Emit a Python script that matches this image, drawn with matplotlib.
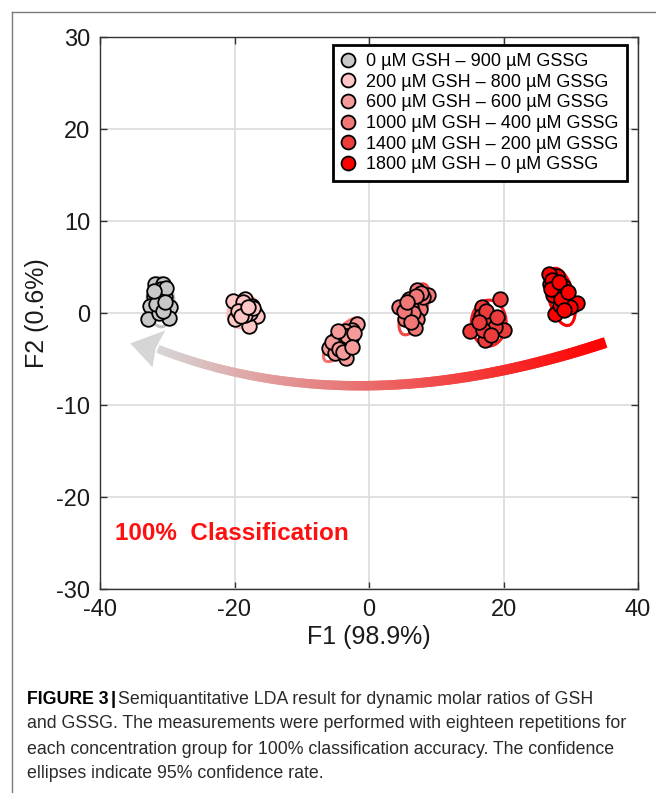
import numpy as np
import matplotlib
matplotlib.use("Agg")
import matplotlib.pyplot as plt
from matplotlib import font_manager
from matplotlib.patches import Ellipse, Polygon
from matplotlib.collections import LineCollection
from matplotlib.lines import Line2D

plt.rcParams['font.family'] = ['Liberation Sans', 'DejaVu Sans']
plt.rcParams['axes.unicode_minus'] = False

# ------------------------------------------------------------
# Data
# ------------------------------------------------------------
labels = ["0 µM GSH – 900 µM GSSG", "200 µM GSH – 800 µM GSSG",
          "600 µM GSH – 600 µM GSSG", "1000 µM GSH – 400 µM GSSG",
          "1400 µM GSH – 200 µM GSSG", "1800 µM GSH – 0 µM GSSG"]
face_colors = ["#c8c8c8", "#ffc6c6", "#f69a9a", "#f27878", "#ec3c3c", "#ff0000"]
ring_colors = ["#c4c4c4", "#ffbcbc", "#f57070", "#f04848", "#f02020", "#ff0000"]

f1_g1 = [-31.8, -30.6, -32.0, -30.8, -30.3, -31.4, -29.6, -32.6, -31.1,
         -32.8, -29.8, -31.3, -31.0, -30.2, -31.6, -30.7, -31.9, -30.4]
f2_g1 = [3.2, 3.1, 1.8, 2.2, 1.7, 1.3, 0.6, 0.8, 0.9,
         -0.7, -0.5, 0.0, 2.6, 2.7, 1.0, 0.2, 2.4, 1.2]
f1_g2 = [-19.7, -18.4, -17.4, -18.9, -17.0, -19.9, -18.2, -16.7, -17.9,
         -19.2, -20.2, -17.7, -18.8, -19.5, -18.5, -17.3, -19.0, -18.0]
f2_g2 = [1.1, 1.5, 0.8, 0.4, 0.0, -0.7, -0.5, -0.3, -1.4,
         0.9, 1.3, 0.0, 1.2, 0.2, -0.2, 0.5, -0.3, 0.7]
f1_g3 = [-1.8, -2.5, -3.6, -4.9, -6.0, -3.0, -4.2, -5.0, -3.4,
         -2.7, -4.0, -3.2, -5.5, -4.5, -2.2, -3.8, -2.6, -4.6]
f2_g3 = [-1.2, -1.8, -2.0, -2.8, -3.8, -3.4, -3.3, -4.4, -4.9,
         -2.7, -2.4, -2.5, -3.2, -3.9, -2.2, -4.2, -3.7, -2.0]
f1_g4 = [7.1, 8.8, 5.8, 4.4, 7.3, 7.6, 5.4, 7.1, 6.8,
         6.3, 8.1, 6.0, 6.6, 5.2, 7.8, 6.2, 7.0, 5.6]
f2_g4 = [2.5, 2.0, 0.9, 0.6, 1.1, 0.4, -0.7, -0.7, -1.6,
         0.6, 1.7, 1.5, 0.0, 0.2, 2.2, -1.0, 1.8, 1.2]
f1_g5 = [19.5, 16.8, 17.5, 18.5, 17.0, 15.0, 20.0, 17.7, 17.2,
         18.2, 16.6, 17.9, 18.8, 16.9, 18.1, 17.4, 19.0, 16.3]
f2_g5 = [1.5, 0.6, -0.3, -0.9, -1.1, -2.0, -1.8, -2.0, -2.9,
         -1.4, -0.3, -0.5, -1.5, -1.8, -2.4, 0.2, -0.4, -1.0]
f1_g6 = [27.9, 26.9, 28.9, 27.4, 29.4, 30.4, 30.9, 27.7, 28.4,
         26.7, 28.1, 29.9, 27.2, 28.6, 27.0, 29.0, 28.3, 29.6]
f2_g6 = [4.0, 3.1, 2.9, 2.0, 1.7, 0.9, 1.1, -0.1, 0.9,
         4.2, 2.4, 0.6, 3.6, 1.5, 2.6, 0.3, 3.4, 2.3]

# 95% confidence ellipses: centre, axis lengths, angle (data units)
ell_cx = [-31.0, -18.6, -3.9, 6.7, 17.8, 28.6]
ell_cy = [1.2, 0.1, -2.9, 0.4, -1.1, 1.75]
ell_w = [4.0, 4.8, 7.0, 6.4, 5.2, 6.6]
ell_h = [5.4, 3.4, 2.6, 3.2, 5.0, 3.6]
ell_ang = [5, 10, 38, 55, 10, -67]

groups = [(f1_g1, f2_g1), (f1_g2, f2_g2), (f1_g3, f2_g3),
          (f1_g4, f2_g4), (f1_g5, f2_g5), (f1_g6, f2_g6)]

# trend arrow (quadratic bezier) and head
arrow_tail = (35.2, -3.2)
arrow_ctrl = (-2.0, -12.25)
arrow_neck = (-31.4, -3.9)
arrow_head = [(-35.5, -3.3), (-30.3, -1.9), (-31.7, -3.8), (-32.2, -5.9)]

W, H = 656, 793
fig = plt.figure(figsize=(W / 100, H / 100), dpi=100)
ax = fig.add_axes([100 / W, 1 - 589 / H, 538 / W, 552 / H])

ax.set_xlim(-40, 40)
ax.set_ylim(-30, 30)
ax.set_xticks([-40, -20, 0, 20, 40])
ax.set_yticks([-30, -20, -10, 0, 10, 20, 30])
ax.grid(True, color="#dedede", linewidth=1.3)
ax.set_axisbelow(True)
ax.tick_params(direction="in", top=True, right=True, length=5, width=1,
               labelsize=17, pad=7, color="#333333", labelcolor="#1a1a1a")
for sp in ax.spines.values():
    sp.set_color("#333333")
    sp.set_linewidth(1.0)

# gradient arrow
t = np.linspace(0, 1, 300)[:, None]
P0, P1, P2 = np.array(arrow_tail), np.array(arrow_ctrl), np.array(arrow_neck)
curve = (1 - t) ** 2 * P0 + 2 * (1 - t) * t * P1 + t ** 2 * P2
segs = [curve[i:i + 3] for i in range(len(curve) - 2)]
c_red = np.array([1.0, 0.0, 0.0])
c_grey = np.array([0.84, 0.84, 0.84])
tt = np.linspace(0, 1, len(segs))[:, None]
seg_cols = (1 - tt) * c_red + tt * c_grey
seg_lw = 7.8 - 2.0 * tt[:, 0]
lc = LineCollection(segs, colors=seg_cols, linewidths=seg_lw, capstyle="butt", zorder=2)
ax.add_collection(lc)
ax.add_patch(Polygon(arrow_head, closed=True, facecolor="#d6d6d6", edgecolor="none", zorder=2))

# ellipses and points
for i, (xs, ys) in enumerate(groups):
    ax.add_patch(Ellipse((ell_cx[i], ell_cy[i]), ell_w[i], ell_h[i], angle=ell_ang[i],
                         fill=False, edgecolor=ring_colors[i], linewidth=2.2, zorder=3))
    ax.scatter(xs, ys, s=110, c=face_colors[i], edgecolors="black", linewidths=1.3, zorder=4)

handles = [Line2D([], [], linestyle="none", marker="o", markersize=10,
                  markerfacecolor=face_colors[i], markeredgecolor="black",
                  markeredgewidth=1.3) for i in range(6)]
leg = ax.legend(handles, labels, loc="upper right",
                bbox_to_anchor=((627 - 100) / 538, (589 - 45) / 552),
                borderaxespad=0, fontsize=13, frameon=True, fancybox=False,
                handlelength=0.8, handletextpad=0.6, labelspacing=0.2,
                borderpad=0.45, framealpha=1)
leg.get_frame().set_edgecolor("black")
leg.get_frame().set_linewidth(2.0)
leg.set_zorder(6)

ax.text(-37.8, -24.0, "100%  Classification", color="#ff1010", fontsize=17.5,
        fontweight="bold", ha="left", va="center", zorder=5)

ax.set_xlabel("F1 (98.9%)", fontsize=18, color="#1a1a1a", va="center")
ax.xaxis.set_label_coords(0.5, (589 - 637) / 552)
ax.set_ylabel("F2 (0.6%)", fontsize=18, color="#1a1a1a", va="center")
ax.yaxis.set_label_coords((37 - 100) / 538, 0.5)

# outer frame lines
fig.add_artist(Line2D([12 / W, 12 / W], [0, 1 - 12 / H], color="#7a7a7a", lw=1.0))
fig.add_artist(Line2D([12 / W, 1], [1 - 12 / H, 1 - 12 / H], color="#7a7a7a", lw=1.0))

# caption
cap_family = ["Liberation Sans"]
try:
    font_manager.findfont("Liberation Sans Narrow", fallback_to_default=False)
    cap_family = ["Liberation Sans Narrow", "Liberation Sans"]
except Exception:
    pass

renderer = fig.canvas.get_renderer()
cap_lines = ["Semiquantitative LDA result for dynamic molar ratios of GSH",
             "and GSSG. The measurements were performed with eighteen repetitions for",
             "each concentration group for 100% classification accuracy. The confidence",
             "ellipses indicate 95% confidence rate."]
cap_y = [700, 724, 749, 773]
x0 = 27
probe = fig.text(0, 0, cap_lines[1], fontsize=14, family=cap_family)
pw = probe.get_window_extent(renderer).width
probe.remove()
cap_fs = 14 * 602 / pw

t1 = fig.text(x0 / W, 1 - cap_y[0] / H, "FIGURE 3", fontsize=cap_fs, family=cap_family,
              fontweight="bold", color="black", va="center", ha="left")
e1 = t1.get_window_extent(renderer)
t2 = fig.text((e1.x1 + 2) / W, 1 - cap_y[0] / H, "|", fontsize=cap_fs * 1.05,
              family=cap_family, fontweight="bold", color="black", va="center", ha="left")
e2 = t2.get_window_extent(renderer)
fig.text((e2.x1 + 2) / W, 1 - cap_y[0] / H, cap_lines[0], fontsize=cap_fs,
         family=cap_family, color="#2a2a2a", va="center", ha="left")
for line, yy in zip(cap_lines[1:], cap_y[1:]):
    fig.text(x0 / W, 1 - yy / H, line, fontsize=cap_fs, family=cap_family,
             color="#2a2a2a", va="center", ha="left")

fig.savefig("out.png", dpi=100)
